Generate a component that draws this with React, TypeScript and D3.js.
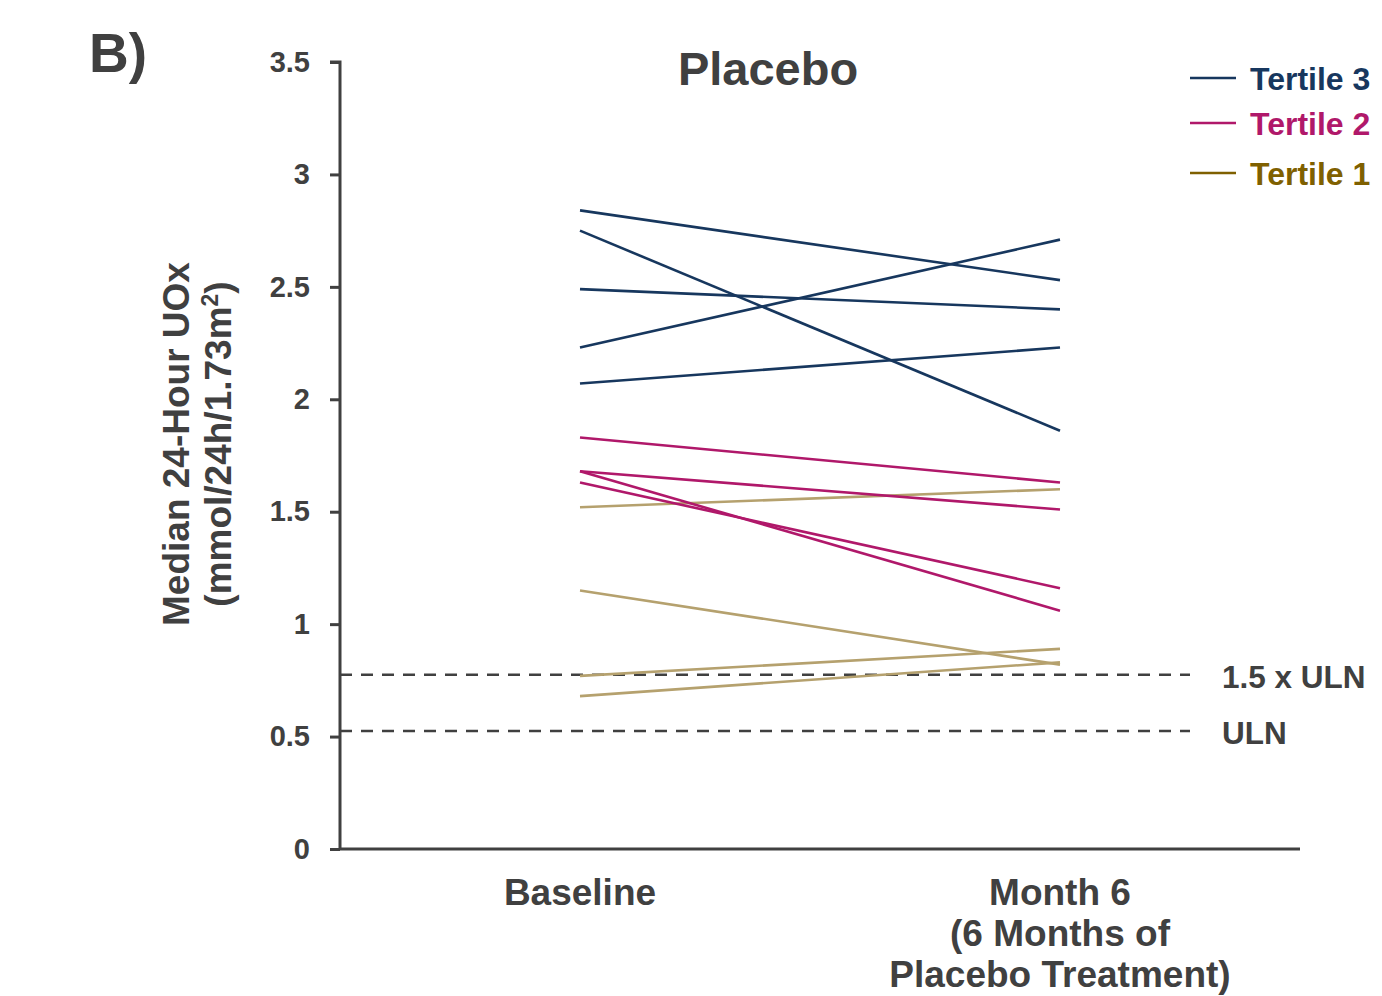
import { useRef, useEffect } from "react";
import * as d3 from "d3";

const timepoints = ["Baseline", "Month 6"];
const tertiles = ["Tertile 3", "Tertile 2", "Tertile 1"];

// each pair: [baseline, month 6]
const tertile3 = [
  [2.84, 2.53],
  [2.75, 1.86],
  [2.49, 2.4],
  [2.23, 2.71],
  [2.07, 2.23],
];
const tertile2 = [
  [1.83, 1.63],
  [1.68, 1.51],
  [1.68, 1.06],
  [1.63, 1.16],
];
const tertile1 = [
  [1.52, 1.6],
  [1.15, 0.82],
  [0.77, 0.89],
  [0.68, 0.83],
];

const refLines = [
  { label: "1.5 x ULN", value: 0.775 },
  { label: "ULN", value: 0.525 },
];
const yTicks = [0, 0.5, 1, 1.5, 2, 2.5, 3, 3.5];

const lineColors = ["#17375E", "#B0186A", "#B5A16E"];
const legendColors = ["#17375E", "#B0186A", "#7F6000"];
const ink = "#404040";
const font = "'Liberation Sans', Arial, sans-serif";

export default function App() {
  const svgRef = useRef<SVGSVGElement>(null);

  useEffect(() => {
    const svg = d3.select(svgRef.current);
    svg.selectAll("*").remove();

    const x = d3.scalePoint().domain(timepoints).range([580, 1060]);
    const y = d3.scaleLinear().domain([0, 3.5]).range([849, 62]);

    // axes
    const yAxis = svg
      .append("g")
      .attr("transform", "translate(340,0)")
      .call(d3.axisLeft(y).tickValues(yTicks).tickSize(10).tickFormat((d) => String(d)));
    yAxis.select(".domain").attr("stroke", ink).attr("stroke-width", 3).attr("d", "M-10,62H0V849");
    yAxis.selectAll(".tick line").attr("stroke", ink).attr("stroke-width", 3);
    yAxis
      .selectAll(".tick text")
      .attr("x", -30)
      .attr("fill", ink)
      .style("font", `bold 29px ${font}`);

    svg
      .append("line")
      .attr("x1", 340)
      .attr("x2", 1300)
      .attr("y1", y(0))
      .attr("y2", y(0))
      .attr("stroke", ink)
      .attr("stroke-width", 3);

    // reference lines
    refLines.forEach((r) => {
      svg
        .append("line")
        .attr("x1", 340)
        .attr("x2", 1190)
        .attr("y1", y(r.value))
        .attr("y2", y(r.value))
        .attr("stroke", ink)
        .attr("stroke-width", 2.5)
        .attr("stroke-dasharray", "12,9");
      svg
        .append("text")
        .attr("x", 1222)
        .attr("y", y(r.value) + 13)
        .attr("fill", ink)
        .style("font", `bold 31.5px ${font}`)
        .text(r.label);
    });

    // data lines
    const line = d3
      .line<number>()
      .x((_, i) => x(timepoints[i])!)
      .y((d) => y(d));
    [tertile1, tertile2, tertile3].forEach((group, gi) => {
      const color = lineColors[2 - gi];
      svg
        .append("g")
        .selectAll("path")
        .data(group)
        .join("path")
        .attr("d", (d) => line(d))
        .attr("fill", "none")
        .attr("stroke", color)
        .attr("stroke-width", 2.6);
    });

    // x labels
    const xLabels: Record<string, string[]> = {
      Baseline: ["Baseline"],
      "Month 6": ["Month 6", "(6 Months of", "Placebo Treatment)"],
    };
    timepoints.forEach((t) => {
      xLabels[t].forEach((ln, i) => {
        svg
          .append("text")
          .attr("x", x(t)!)
          .attr("y", 905 + i * 41)
          .attr("text-anchor", "middle")
          .attr("fill", ink)
          .style("font", `bold 37px ${font}`)
          .text(ln);
      });
    });

    // y label
    const yl = svg
      .append("text")
      .attr("transform", `translate(189,444) rotate(-90)`)
      .attr("text-anchor", "middle")
      .attr("fill", ink)
      .style("font", `bold 37px ${font}`);
    yl.append("tspan").attr("x", 0).attr("y", 0).text("Median 24-Hour UOx");
    const l2 = yl.append("tspan").attr("x", 0).attr("y", 42).text("(mmol/24h/1.73m");
    l2.append("tspan").attr("dy", -13).style("font-size", "23px").text("2");
    l2.append("tspan").attr("dy", 13).text(")");

    // title
    svg
      .append("text")
      .attr("x", 768)
      .attr("y", 85)
      .attr("text-anchor", "middle")
      .attr("fill", ink)
      .style("font", `bold 47px ${font}`)
      .text("Placebo");

    svg
      .append("text")
      .attr("x", 89)
      .attr("y", 72)
      .attr("fill", ink)
      .style("font", `bold 55px ${font}`)
      .text("B)");

    // legend
    const legendY = [78, 123, 173];
    tertiles.forEach((t, i) => {
      svg
        .append("line")
        .attr("x1", 1190)
        .attr("x2", 1236)
        .attr("y1", legendY[i])
        .attr("y2", legendY[i])
        .attr("stroke", legendColors[i])
        .attr("stroke-width", 2.6);
      svg
        .append("text")
        .attr("x", 1250)
        .attr("y", legendY[i] + 11.5)
        .attr("fill", legendColors[i])
        .style("font", `bold 32px ${font}`)
        .text(t);
    });
  }, []);

  return (
    <svg
      ref={svgRef}
      width={1382}
      height={996}
      style={{ position: "absolute", left: 0, top: 0, background: "#fff" }}
    />
  );
}
